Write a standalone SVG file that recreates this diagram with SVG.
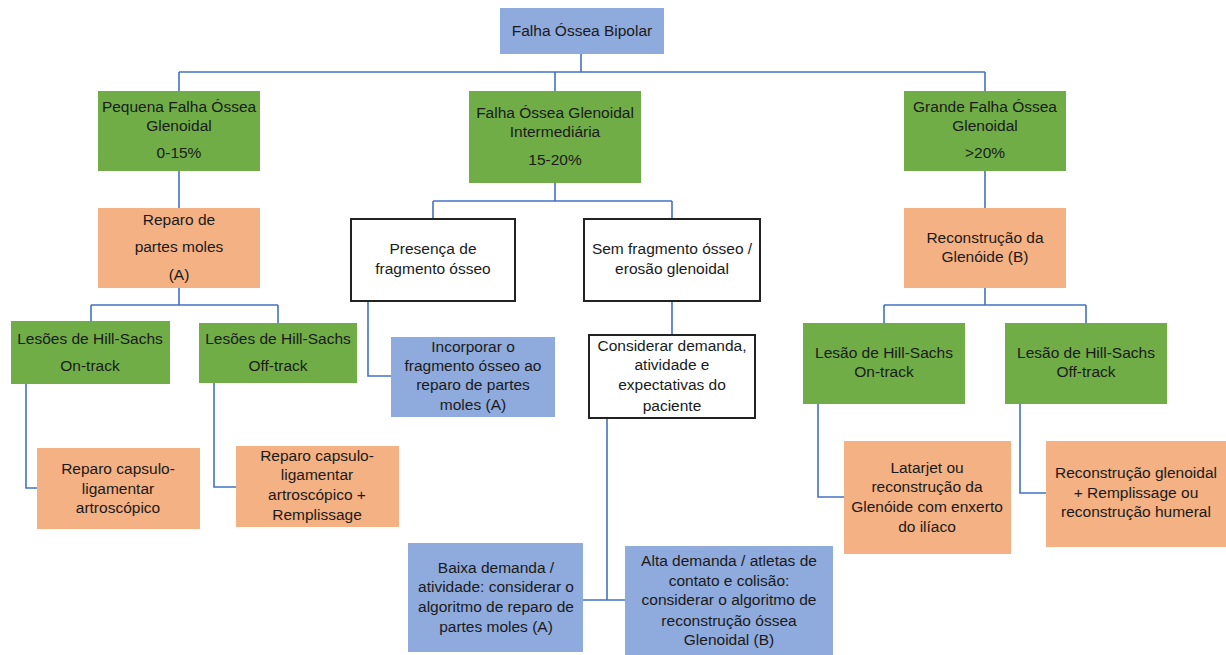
<svg xmlns="http://www.w3.org/2000/svg" width="1226" height="655" viewBox="0 0 1226 655">
<style>
.blue{fill:#8FAADC}
.green{fill:#70AD47}
.orange{fill:#F4B183}
.white{fill:#FFFFFF;stroke:#222;stroke-width:2}
text{font-family:"Liberation Sans",Arial,sans-serif;font-size:15.5px;fill:#1a1a1a;text-anchor:middle}
.conn{fill:none;stroke:#4472C4;stroke-width:1.6}
</style>
<rect width="1226" height="655" fill="#FFFFFF"/>
<g id="connectors" class="conn">
<path d="M581 54V72M179 72H985M179 72V91M555 72V91M985 72V91"/>
<path d="M179 171V208M179 288V305M91 305H278M91 305V321M278 305V323"/>
<path d="M26 384V488H37M214 383V487H236"/>
<path d="M555 183V201M433 201H672M433 201V219M672 201V219"/>
<path d="M368 301V376H391M672 301V335"/>
<path d="M607 418V600M583 600H625"/>
<path d="M985 171V208M985 288V305M884 305H1086M884 305V323M1086 305V323"/>
<path d="M818 404V497H844M1020 404V493H1046"/>
</g>
<g id="n-root"><rect class="blue" x="500" y="8" width="164" height="46"/><text x="582" y="36">Falha Óssea Bipolar</text></g>
<g id="n-pequena"><rect class="green" x="98" y="91" width="162" height="80"/><text x="179" y="112">Pequena Falha Óssea</text><text x="179" y="131">Glenoidal</text><text x="179" y="158">0-15%</text></g>
<g id="n-intermediaria"><rect class="green" x="469" y="91" width="172" height="92"/><text x="555" y="118">Falha Óssea Glenoidal</text><text x="555" y="137">Intermediária</text><text x="555" y="165">15-20%</text></g>
<g id="n-grande"><rect class="green" x="904" y="91" width="162" height="80"/><text x="985" y="112">Grande Falha Óssea</text><text x="985" y="131">Glenoidal</text><text x="985" y="158">&gt;20%</text></g>
<g id="n-reparo"><rect class="orange" x="98" y="208" width="162" height="80"/><text x="179" y="225">Reparo de</text><text x="179" y="252">partes moles</text><text x="179" y="280">(A)</text></g>
<g id="n-reconstrucao"><rect class="orange" x="904" y="208" width="162" height="80"/><text x="985" y="243">Reconstrução da</text><text x="985" y="262">Glenóide (B)</text></g>
<g id="n-presenca"><rect class="white" x="351" y="219" width="164" height="82"/><text x="433" y="254">Presença de</text><text x="433" y="274">fragmento ósseo</text></g>
<g id="n-sem"><rect class="white" x="584" y="219" width="176" height="82"/><text x="672" y="254">Sem fragmento ósseo /</text><text x="672" y="274">erosão glenoidal</text></g>
<g id="n-hs-on-a"><rect class="green" x="11" y="321" width="159" height="63"/><text x="90" y="344">Lesões de Hill-Sachs</text><text x="90" y="371">On-track</text></g>
<g id="n-hs-off-a"><rect class="green" x="199" y="323" width="158" height="60"/><text x="278" y="344">Lesões de Hill-Sachs</text><text x="278" y="371">Off-track</text></g>
<g id="n-incorporar"><rect class="blue" x="391" y="337" width="164" height="80"/><text x="473" y="352">Incorporar o</text><text x="473" y="371">fragmento ósseo ao</text><text x="473" y="390">reparo de partes</text><text x="473" y="410">moles (A)</text></g>
<g id="n-considerar"><rect class="white" x="589" y="335" width="166" height="83"/><text x="672" y="351">Considerar demanda,</text><text x="672" y="370">atividade e</text><text x="672" y="390">expectativas do</text><text x="672" y="411">paciente</text></g>
<g id="n-hs-on-b"><rect class="green" x="803" y="323" width="162" height="81"/><text x="884" y="358">Lesão de Hill-Sachs</text><text x="884" y="377">On-track</text></g>
<g id="n-hs-off-b"><rect class="green" x="1005" y="323" width="162" height="81"/><text x="1086" y="358">Lesão de Hill-Sachs</text><text x="1086" y="377">Off-track</text></g>
<g id="n-capsulo"><rect class="orange" x="37" y="448" width="163" height="81"/><text x="118" y="474">Reparo capsulo-</text><text x="118" y="494">ligamentar</text><text x="118" y="513">artroscópico</text></g>
<g id="n-capsulo-rem"><rect class="orange" x="236" y="446" width="163" height="81"/><text x="317" y="461">Reparo capsulo-</text><text x="317" y="480">ligamentar</text><text x="317" y="500">artroscópico +</text><text x="317" y="520">Remplissage</text></g>
<g id="n-latarjet"><rect class="orange" x="844" y="441" width="167" height="113"/><text x="927" y="473">Latarjet ou</text><text x="927" y="492">reconstrução da</text><text x="927" y="512">Glenóide com enxerto</text><text x="927" y="532">do ilíaco</text></g>
<g id="n-reconst-gl"><rect class="orange" x="1046" y="441" width="180" height="106"/><text x="1136" y="478">Reconstrução glenoidal</text><text x="1136" y="498">+ Remplissage ou</text><text x="1136" y="517">reconstrução humeral</text></g>
<g id="n-baixa"><rect class="blue" x="408" y="543" width="175" height="109"/><text x="496" y="573">Baixa demanda /</text><text x="496" y="592">atividade: considerar o</text><text x="496" y="612">algoritmo de reparo de</text><text x="496" y="632">partes moles (A)</text></g>
<g id="n-alta"><rect class="blue" x="625" y="546" width="208" height="109"/><text x="729" y="566">Alta demanda / atletas de</text><text x="729" y="586">contato e colisão:</text><text x="729" y="605">considerar o algoritmo de</text><text x="729" y="626">reconstrução óssea</text><text x="729" y="645">Glenoidal (B)</text></g>
</svg>
